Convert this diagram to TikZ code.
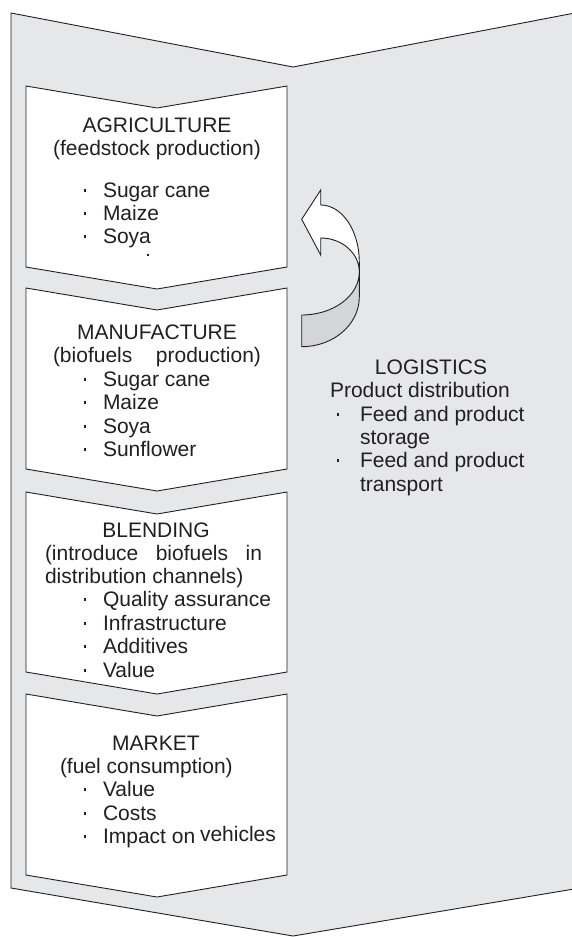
\documentclass[tikz,border=0pt]{standalone}
\usepackage{fontspec}
\setmainfont{Liberation Sans}
\definecolor{bg}{HTML}{E6E7E8}
\definecolor{band}{HTML}{D4D5D7}
\definecolor{ink}{HTML}{231F20}
\newcommand\bitem[5]{%
  \node[dotmark] (#1d) at (#2,{#4-6.8}) {};
  \node[txt,anchor=base west] (#1) at (#3,#4) {#5};}
\begin{document}
\begin{tikzpicture}[x=1pt,y=-1pt,
  line/.style={draw=ink,line width=0.9pt,line join=miter},
  dotmark/.style={fill=ink,inner sep=0pt,outer sep=0pt,minimum size=2.6pt},
  txt/.style={inner sep=0pt,outer sep=0pt,text=ink,font=\fontsize{21}{23.3}\selectfont}]
\useasboundingbox (0,0) rectangle (571,937);
\fill[white] (0,0) rectangle (571,937);
% outer chevron
\draw[line,fill=bg] (11,13) -- (293,67) -- (580,12) -- (580,888) -- (293,936) -- (11,888) -- cycle;
% stage boxes
\draw[line,fill=white] (26,86) -- (157,108) -- (287,86) -- (287,267) -- (157,289) -- (26,267) -- cycle;
\draw[line,fill=white] (26,288) -- (157,310) -- (287,288) -- (287,469) -- (157,491) -- (26,469) -- cycle;
\draw[line,fill=white] (26,492) -- (157,514) -- (287,492) -- (287,672) -- (157,694) -- (26,672) -- cycle;
\draw[line,fill=white] (26,694) -- (157,716) -- (287,694) -- (287,875) -- (157,897) -- (26,875) -- cycle;
% curved arrow
\draw[line,fill=white] (301.7,219.3) -- (320.7,190) -- (320.7,205)
  .. controls (342,205) and (359.3,230.5) .. (359.3,262) -- (359.3,272)
  .. controls (359.3,253.2) and (342,238) .. (320.7,238) -- (320.7,255) -- cycle;
\draw[line,fill=band] (301.7,315) .. controls (333.5,315) and (359.3,295.7) .. (359.3,272)
  -- (359.3,297) .. controls (359.3,324.4) and (333.5,346.7) .. (301.7,346.7) -- cycle;
% AGRICULTURE
\node[txt,anchor=base] (agri) at (157,132) {AGRICULTURE};
\node[txt,anchor=base] (agri2) at (157,155) {(feedstock production)};
\bitem{a1}{85}{103}{197}{Sugar cane}
\bitem{a2}{85}{103}{220}{Maize}
\bitem{a3}{85}{103}{243}{Soya}
\fill[ink] (146.5,253.5) rectangle (148.7,256);
% MANUFACTURE
\node[txt,anchor=base] (manu) at (157,339) {MANUFACTURE};
\node[txt,anchor=base] (manu2) at (157,362.5) {\makebox[208pt][s]{(biofuels production)}};
\bitem{m1}{85}{103}{386}{Sugar cane}
\bitem{m2}{85}{103}{409.5}{Maize}
\bitem{m3}{85}{103}{433}{Soya}
\bitem{m4}{85}{103}{456.5}{Sunflower}
% BLENDING
\node[txt,anchor=base] (blend) at (156,537) {BLENDING};
\node[txt,anchor=base west] (blend2) at (45,560) {\makebox[217pt][s]{(introduce biofuels in}};
\node[txt,anchor=base west] (blend3) at (45,583) {distribution channels)};
\bitem{b1}{85}{103}{606.5}{Quality assurance}
\bitem{b2}{85}{103}{630}{Infrastructure}
\bitem{b3}{85}{103}{653.5}{Additives}
\bitem{b4}{85}{103}{677}{Value}
% MARKET
\node[txt,anchor=base] (mkt) at (156,750) {MARKET};
\node[txt,anchor=base west] (mkt2) at (60,773) {(fuel consumption)};
\bitem{k1}{85}{103}{796.5}{Value}
\bitem{k2}{85}{103}{820}{Costs}
\bitem{k3}{85}{103}{843}{Impact on\hspace{-1pt} \raisebox{1.5pt}{vehicles}}
% LOGISTICS
\node[txt,anchor=base] (log) at (431,374) {LOGISTICS};
\node[txt,anchor=base west] (log2) at (330,397.5) {Product distribution};
\bitem{l1}{338}{360}{421}{Feed and product}
\node[txt,anchor=base west] (l1b) at (360,444) {storage};
\bitem{l2}{338}{360}{467.5}{Feed and product}
\node[txt,anchor=base west] (l2b) at (360,491) {transport};
\end{tikzpicture}
\end{document}
